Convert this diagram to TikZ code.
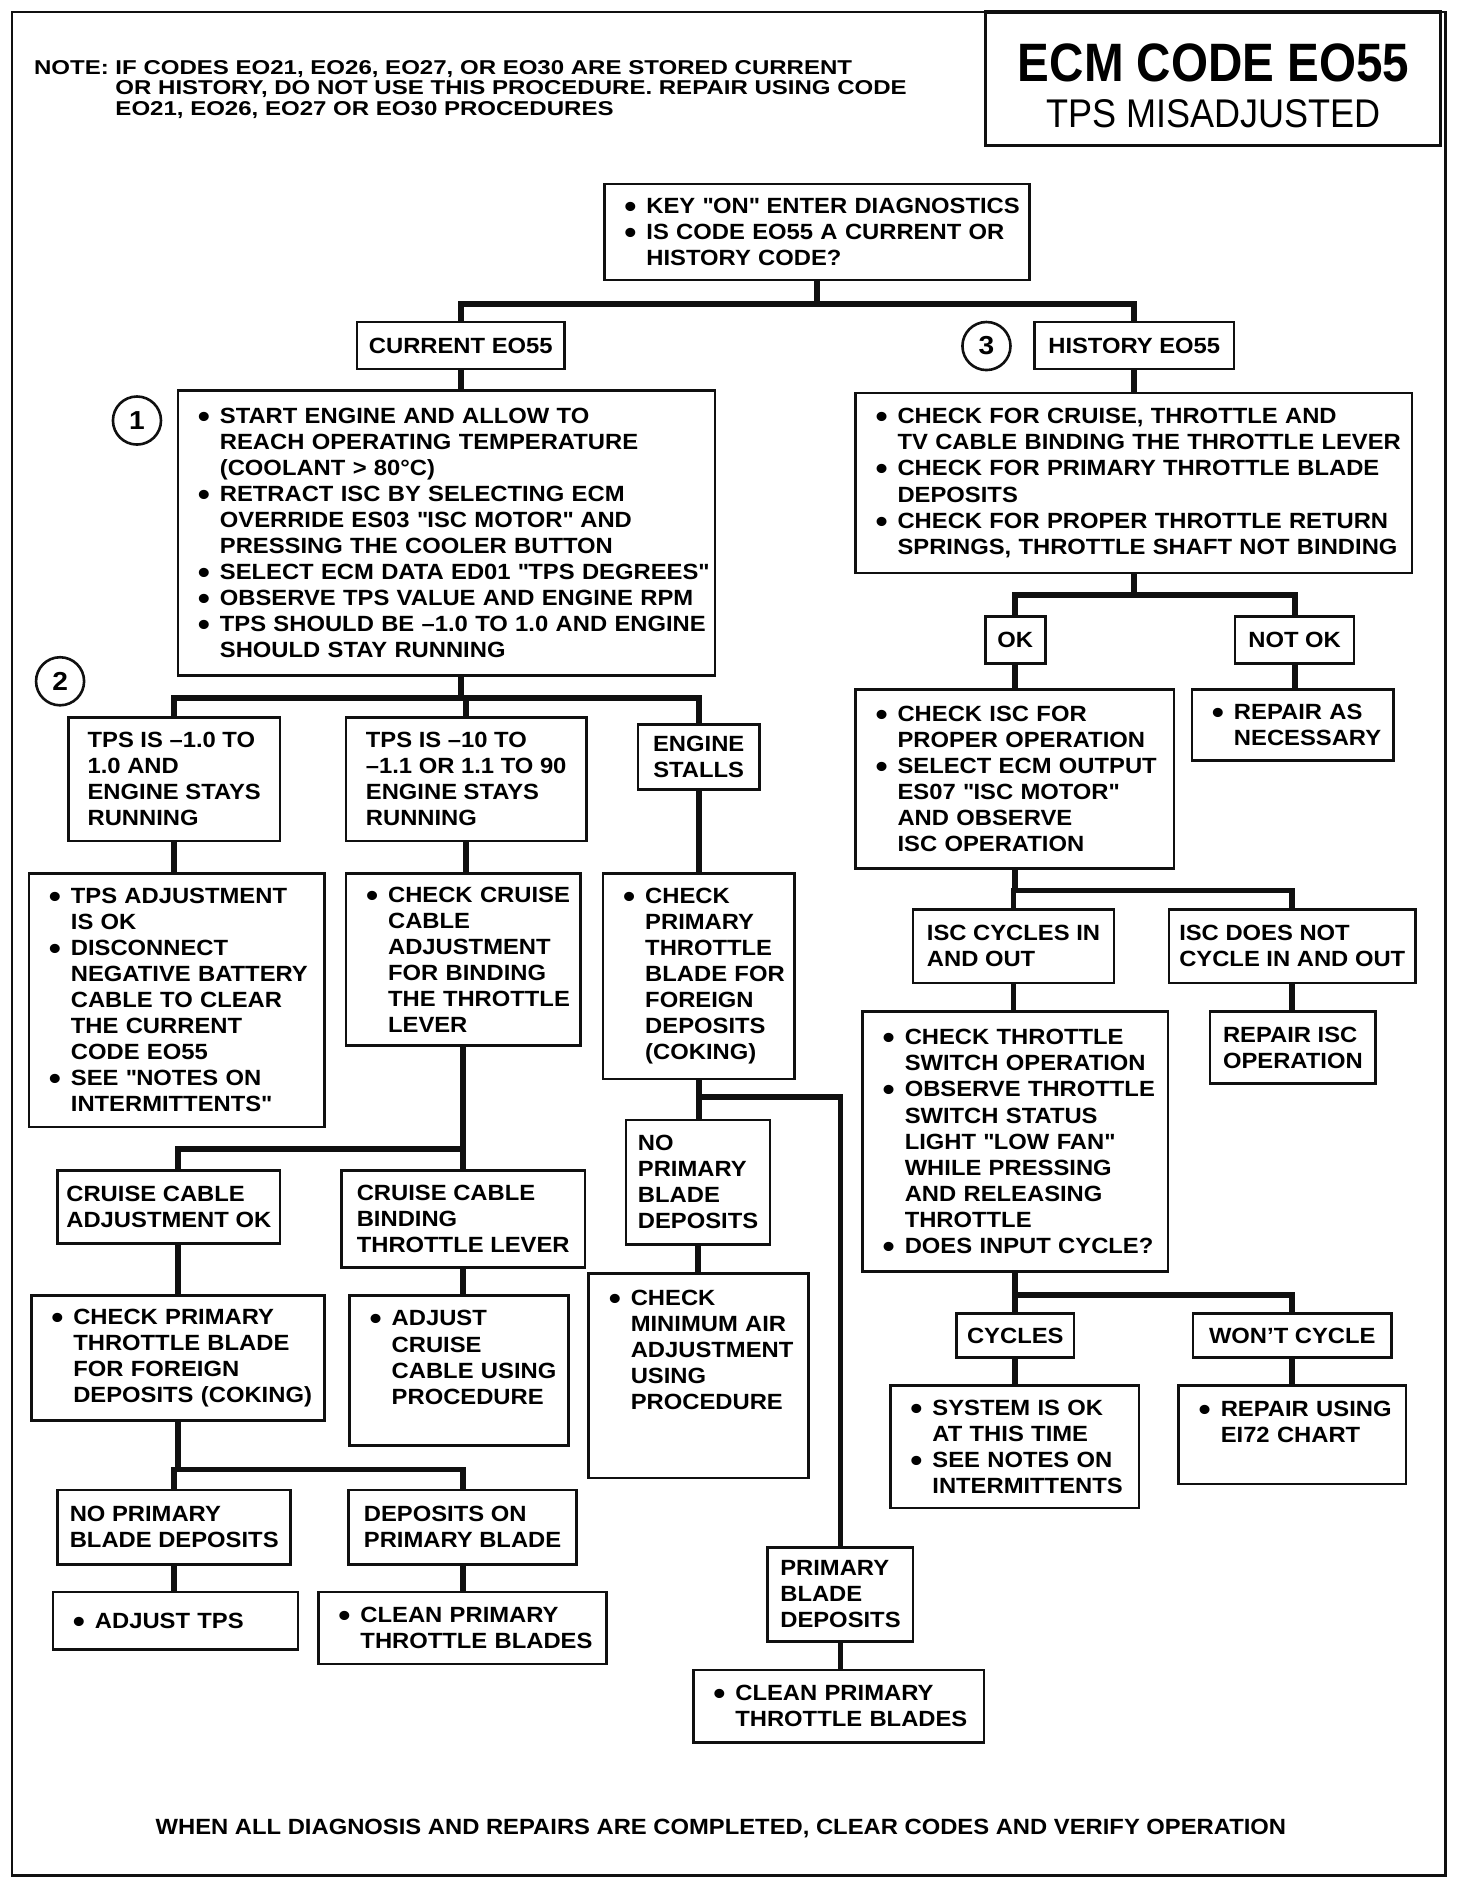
\documentclass[tikz,border=0pt]{standalone}
\usepackage{fontspec}
\setmainfont{Liberation Sans}[FakeStretch=1.08]
\newfontfamily\notefont{Liberation Sans}[FakeStretch=1.2]
\newfontfamily\titlefont{Liberation Sans}[FakeStretch=0.88]
\usepackage{tikz}
\definecolor{ChartInk}{HTML}{101010}
\definecolor{ChartPaper}{HTML}{FFFFFF}
\newcommand{\bul}{\makebox[21pt][l]{\hspace{10pt}\smash{\raisebox{-2pt}{\fontsize{16}{16}\selectfont\textbullet}}}}
\newcommand{\ind}{\hspace*{21pt}}
\newcommand{\qt}{\textquotedbl}

\begin{document}
\begin{tikzpicture}[x=0.6pt,y=-0.6pt,
  chk/.style={draw=ChartInk,line width=1.3pt,inner xsep=0pt,inner ysep=3pt,
              align=left,font=\fontsize{11}{13}\selectfont\bfseries},
  tag/.style={draw=ChartInk,line width=1.3pt,inner sep=2pt,align=left,
              font=\fontsize{11}{13}\selectfont\bfseries},
  num/.style={circle,draw=ChartInk,line width=1.3pt,minimum size=24pt,
              inner sep=0pt,font=\fontsize{13}{13}\selectfont\bfseries},
  link/.style={ChartInk,line width=2.9pt}]
  \useasboundingbox[fill=ChartPaper] (0,0) rectangle (1225,1568);
  % Frame and heading.
  \draw[ChartInk,line width=1.4pt] (10,10) rectangle (1203,1561);
  \node[draw=ChartInk,line width=1.6pt,minimum width=227.4pt,minimum height=66.6pt]
        (titlebox) at (1009.5,65.5) {};
  \node[font=\titlefont\fontsize{27}{27}\selectfont\bfseries] (title) at (1010,52) {ECM CODE EO55};
  \node[font=\fontsize{20}{20}\selectfont\addfontfeature{FakeStretch=0.9}] (subtitle) at (1010,95) {TPS MISADJUSTED};
  \node[anchor=north west,align=left,inner sep=0pt,
        font=\notefont\fontsize{10}{10.2}\selectfont\bfseries] (note) at (28,50)
        {NOTE: IF CODES EO21, EO26, EO27, OR EO30 ARE STORED CURRENT\\
         \phantom{NOTE: }OR HISTORY, DO NOT USE THIS PROCEDURE. REPAIR USING CODE\\
         \phantom{NOTE: }EO21, EO26, EO27 OR EO30 PROCEDURES};
  % First question.
  \node[chk,text width=212.4pt,minimum height=48pt] (start) at (680,193)
        {\bul KEY \qt ON\qt{} ENTER DIAGNOSTICS\\
         \bul IS CODE EO55 A CURRENT OR\\
         \ind HISTORY CODE?};
  \node[tag,minimum width=103.8pt,minimum height=23.4pt] (cur) at (383.5,287.5) {CURRENT EO55};
  \node[tag,minimum width=99.6pt,minimum height=23.4pt] (hist) at (944,287.5) {HISTORY EO55};
  \node[num] (c3) at (821,288) {3};
  % Current code branch.
  \node[num] (c1) at (114,350) {1};
  \node[chk,text width=268.2pt,minimum height=142.2pt] (warm) at (371.5,443.5)
        {\bul START ENGINE AND ALLOW TO\\
         \ind REACH OPERATING TEMPERATURE\\
         \ind (COOLANT > 80°C)\\
         \bul RETRACT ISC BY SELECTING ECM\\
         \ind OVERRIDE ES03 \qt ISC MOTOR\qt{} AND\\
         \ind PRESSING THE COOLER BUTTON\\
         \bul SELECT ECM DATA ED01 \qt TPS DEGREES\qt\\
         \bul OBSERVE TPS VALUE AND ENGINE RPM\\
         \bul TPS SHOULD BE --1.0 TO 1.0 AND ENGINE\\
         \ind SHOULD STAY RUNNING};
  \node[num] (c2) at (50,567) {2};
  \node[tag,minimum width=105.6pt,minimum height=61.8pt] (tpsok) at (145,648.5)
        {TPS IS --1.0 TO\\1.0 AND\\ENGINE STAYS\\RUNNING};
  \node[tag,minimum width=120pt,minimum height=61.8pt] (tpsout) at (388,648.5)
        {TPS IS --10 TO\\--1.1 OR 1.1 TO 90\\ENGINE STAYS\\RUNNING};
  \node[tag,align=center,minimum width=60.6pt,minimum height=32.4pt] (stalls) at (581.5,630)
        {ENGINE\\STALLS};
  \node[chk,text width=147.6pt,minimum height=126.6pt] (okact) at (147,832.5)
        {\bul TPS ADJUSTMENT\\
         \ind IS OK\\
         \bul DISCONNECT\\
         \ind NEGATIVE BATTERY\\
         \ind CABLE TO CLEAR\\
         \ind THE CURRENT\\
         \ind CODE EO55\\
         \bul SEE \qt NOTES ON\\
         \ind INTERMITTENTS\qt};
  \node[chk,text width=117pt,minimum height=85.8pt] (cruchk) at (385.5,798.5)
        {\bul CHECK CRUISE\\
         \ind CABLE\\
         \ind ADJUSTMENT\\
         \ind FOR BINDING\\
         \ind THE THROTTLE\\
         \ind LEVER};
  \node[chk,text width=95.4pt,minimum height=102.6pt] (stlchk) at (581.5,812.5)
        {\bul CHECK\\
         \ind PRIMARY\\
         \ind THROTTLE\\
         \ind BLADE FOR\\
         \ind FOREIGN\\
         \ind DEPOSITS\\
         \ind (COKING)};
  \node[tag,minimum width=111pt,minimum height=36.6pt] (cruok) at (140.5,1004.5)
        {CRUISE CABLE\\ADJUSTMENT OK};
  \node[tag,minimum width=121.8pt,minimum height=48.6pt] (crubind) at (385.5,1014.5)
        {CRUISE CABLE\\BINDING\\THROTTLE LEVER};
  \node[chk,text width=146.4pt,minimum height=62.4pt] (prichk) at (148,1130)
        {\bul CHECK PRIMARY\\
         \ind THROTTLE BLADE\\
         \ind FOR FOREIGN\\
         \ind DEPOSITS (COKING)};
  \node[chk,text width=109.2pt,minimum height=75pt] (adjcru) at (382,1140.5)
        {\bul ADJUST\\
         \ind CRUISE\\
         \ind CABLE USING\\
         \ind PROCEDURE\\\mbox{}};
  \node[tag,minimum width=116.4pt,minimum height=37.2pt] (noblade) at (145,1271)
        {NO PRIMARY\\BLADE DEPOSITS};
  \node[tag,minimum width=114pt,minimum height=37.2pt] (onblade) at (385,1271)
        {DEPOSITS ON\\PRIMARY BLADE};
  \node[chk,text width=122.4pt,minimum height=28.8pt] (adjtps) at (146,1349)
        {\bul ADJUST TPS};
  \node[chk,text width=144pt,minimum height=36pt] (clean1) at (385,1355)
        {\bul CLEAN PRIMARY\\
         \ind THROTTLE BLADES};
  % Engine stalls branch.
  \node[tag,minimum width=72pt,minimum height=62.4pt] (noprim) at (581,984)
        {NO\\PRIMARY\\BLADE\\DEPOSITS};
  \node[chk,text width=109.8pt,minimum height=102pt] (minair) at (581.5,1145)
        {\bul CHECK\\
         \ind MINIMUM AIR\\
         \ind ADJUSTMENT\\
         \ind USING\\
         \ind PROCEDURE\\\mbox{}\\\mbox{}};
  \node[tag,minimum width=72.6pt,minimum height=46.8pt] (primdep) at (699.5,1327)
        {PRIMARY\\BLADE\\DEPOSITS};
  \node[chk,text width=145.2pt,minimum height=36pt] (clean2) at (698,1420)
        {\bul CLEAN PRIMARY\\
         \ind THROTTLE BLADES};
  % History code branch.
  \node[chk,text width=277.8pt,minimum height=90pt] (hchk) at (943.5,402)
        {\bul CHECK FOR CRUISE, THROTTLE AND\\
         \ind TV CABLE BINDING THE THROTTLE LEVER\\
         \bul CHECK FOR PRIMARY THROTTLE BLADE\\
         \ind DEPOSITS\\
         \bul CHECK FOR PROPER THROTTLE RETURN\\
         \ind SPRINGS, THROTTLE SHAFT NOT BINDING};
  \node[tag,align=center,minimum width=30pt,minimum height=23.4pt] (ok) at (845,532.5) {OK};
  \node[tag,align=center,minimum width=59.4pt,minimum height=23.4pt] (notok) at (1077.5,532.5) {NOT OK};
  \node[chk,text width=159pt,minimum height=89.4pt] (iscchk) at (844.5,648.5)
        {\bul CHECK ISC FOR\\
         \ind PROPER OPERATION\\
         \bul SELECT ECM OUTPUT\\
         \ind ES07 \qt ISC MOTOR\qt\\
         \ind AND OBSERVE\\
         \ind ISC OPERATION};
  \node[chk,text width=100.8pt,minimum height=35.4pt] (repair) at (1076,603.5)
        {\bul REPAIR AS\\
         \ind NECESSARY};
  \node[tag,minimum width=100.2pt,minimum height=36.6pt] (cycin) at (843.5,787.5)
        {ISC CYCLES IN\\AND OUT};
  \node[tag,minimum width=123pt,minimum height=36.6pt] (cycnot) at (1075.5,787.5)
        {ISC DOES NOT\\CYCLE IN AND OUT};
  \node[chk,text width=152.4pt,minimum height=129.6pt] (thrchk) at (845,950)
        {\bul CHECK THROTTLE\\
         \ind SWITCH OPERATION\\
         \bul OBSERVE THROTTLE\\
         \ind SWITCH STATUS\\
         \ind LIGHT \qt LOW FAN\qt\\
         \ind WHILE PRESSING\\
         \ind AND RELEASING\\
         \ind THROTTLE\\
         \bul DOES INPUT CYCLE?};
  \node[tag,minimum width=82.8pt,minimum height=36pt] (repisc) at (1076,872)
        {REPAIR ISC\\OPERATION};
  \node[tag,align=center,minimum width=58.8pt,minimum height=22.2pt] (cycles) at (845,1111.5) {CYCLES};
  \node[tag,align=center,minimum width=99pt,minimum height=22.2pt] (wont) at (1075.5,1111.5) {WON'T CYCLE};
  \node[chk,text width=124.2pt,minimum height=61.2pt] (sysok) at (844.5,1204)
        {\bul SYSTEM IS OK\\
         \ind AT THIS TIME\\
         \bul SEE NOTES ON\\
         \ind INTERMITTENTS};
  \node[chk,text width=113.4pt,minimum height=49.2pt] (repusing) at (1075.5,1194)
        {\bul REPAIR USING\\
         \ind EI72 CHART\\\mbox{}};
  % Closing remark.
  \node[font=\fontsize{11}{13}\selectfont\bfseries] (footer) at (600,1522)
        {WHEN ALL DIAGNOSIS AND REPAIRS ARE COMPLETED, CLEAR CODES AND VERIFY OPERATION};
  % Connectors, top.
  \draw[link] (start.south) -- ++(0,19) -| (cur.north);
  \draw[link] (start.south) -- ++(0,19) -| (hist.north);
  \draw[link] (cur.south) -- (cur.south |- warm.north);
  \draw[link] (hist.south) -- (hist.south |- hchk.north);
  % Connectors, current code.
  \draw[link] (warm.south -| cur.south) -- ++(0,18) -| (tpsok.north);
  \draw[link] (warm.south -| cur.south) -- ++(0,18) -| (tpsout.north);
  \draw[link] (warm.south -| cur.south) -- ++(0,18) -| (stalls.north);
  \draw[link] (tpsok.south) -- (tpsok.south |- okact.north);
  \draw[link] (tpsout.south) -- (tpsout.south |- cruchk.north);
  \draw[link] (stalls.south) -- (stalls.south |- stlchk.north);
  \draw[link] (cruchk.south) -- (cruchk.south |- crubind.north);
  \draw[link] (cruchk.south) -- ++(0,85) -| (cruok.north -| prichk.north);
  \draw[link] (prichk.north |- cruok.south) -- (prichk.north);
  \draw[link] (crubind.south) -- (crubind.south |- adjcru.north);
  \draw[link] (prichk.south) -- ++(0,40) -| (noblade.north);
  \draw[link] (prichk.south) -- ++(0,40) -| (onblade.north);
  \draw[link] (noblade.south) -- (noblade.south |- adjtps.north);
  \draw[link] (onblade.south) -- (onblade.south |- clean1.north);
  % Connectors, engine stalls.
  \draw[link] (stlchk.south) -- (stlchk.south |- noprim.north);
  \draw[link] (stlchk.south) -- ++(0,14) -| (primdep.north);
  \draw[link] (noprim.south) -- (noprim.south |- minair.north);
  \draw[link] (primdep.south) -- (primdep.south |- clean2.north);
  % Connectors, history code.
  \draw[link] (hchk.south) -- ++(0,17) -| (ok.north);
  \draw[link] (hchk.south) -- ++(0,17) -| (notok.north);
  \draw[link] (ok.south) -- (ok.south |- iscchk.north);
  \draw[link] (notok.south) -- (notok.south |- repair.north);
  \draw[link] (iscchk.south) -- ++(0,17) -| (cycin.north);
  \draw[link] (iscchk.south) -- ++(0,17) -| (cycnot.north);
  \draw[link] (cycin.south) -- (cycin.south |- thrchk.north);
  \draw[link] (cycnot.south) -- (cycnot.south |- repisc.north);
  \draw[link] (thrchk.south) -- ++(0,19) -| (cycles.north);
  \draw[link] (thrchk.south) -- ++(0,19) -| (wont.north);
  \draw[link] (cycles.south) -- (cycles.south |- sysok.north);
  \draw[link] (wont.south) -- (wont.south |- repusing.north);
\end{tikzpicture}
\end{document}
